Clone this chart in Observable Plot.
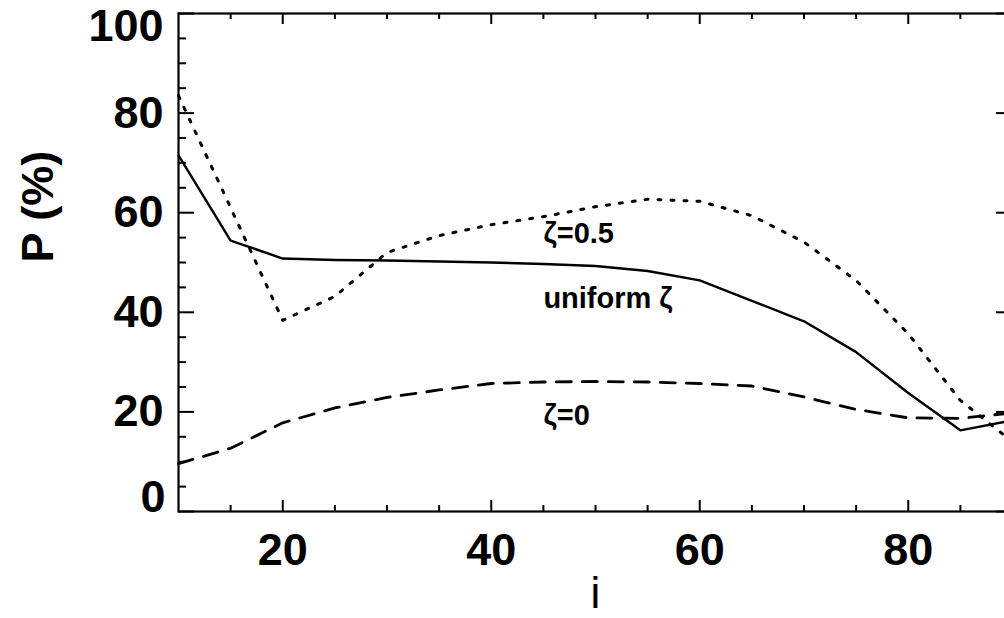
<!DOCTYPE html>
<html>
<head>
<meta charset="utf-8">
<script src="https://cdn.jsdelivr.net/npm/d3@7"></script>
<script src="https://cdn.jsdelivr.net/npm/@observablehq/plot@0.6"></script>
<style>
  html, body { margin: 0; padding: 0; background: #fff; overflow: hidden; }
</style>
</head>
<body>
<div id="chart"></div>
<script>
// ---- data ----
const iValues = [10, 15, 20, 25, 30, 35, 40, 45, 50, 55, 60, 65, 70, 75, 80, 85, 90];
const pUniform = [71.5, 54.4, 50.8, 50.5, 50.4, 50.2, 50.0, 49.7, 49.3, 48.3, 46.4, 42.3, 38.2, 32.0, 23.8, 16.3, 18.3];
const pZeta05  = [83.5, 61.0, 38.4, 43.2, 52.0, 55.4, 57.6, 59.2, 61.2, 62.7, 62.3, 59.4, 54.1, 46.4, 35.7, 22.3, 14.0];
const pZeta0   = [9.6, 12.7, 17.8, 20.8, 22.9, 24.4, 25.7, 26.0, 26.1, 26.0, 25.7, 25.2, 23.0, 20.5, 18.8, 18.7, 19.8];

const xMajor = [20, 40, 60, 80];
const xMinor = [15, 25, 30, 35, 45, 50, 55, 65, 70, 75, 85];
const yMajor = [0, 20, 40, 60, 80, 100];
const yMinor = [5, 10, 15, 25, 30, 35, 45, 50, 55, 65, 70, 75, 85, 90, 95];

const xTickLabels = ["20", "40", "60", "80"];
const yInnerTicks = [20, 40, 60, 80];
const yInnerLabels = ["20", "40", "60", "80"];
const yBottomTick = [0], yBottomLabel = ["0"];
const yTopTick = [100], yTopLabel = ["100"];

const noteText = ["ζ=0.5", "uniform ζ", "ζ=0"];
const noteX = [45, 45, 45];
const noteY = [55.7, 42.8, 19.3];

const xTitle = "i";
const yTitle = "P (%)";

// ---- build tables ----
const series = (vals) => iValues.map((i, k) => ({i, P: vals[k]}));
const uniformRows = series(pUniform);
const zeta05Rows = series(pZeta05);
const zeta0Rows = series(pZeta0);
const notes = noteText.map((t, k) => ({t, x: noteX[k], y: noteY[k]}));

const W = 1004, H = 618;
const mL = 178, mR = -8, mT = 13, mB = 107;
const plotW = W - mL - mR, plotH = H - mT - mB;
const font = "'Liberation Sans', Arial, Helvetica, sans-serif";
const majX = 11, minX = 6, majY = 16, minY = 8;

const chart = Plot.plot({
  width: W,
  height: H,
  marginLeft: mL,
  marginRight: mR,
  marginTop: mT,
  marginBottom: mB,
  x: {domain: [10, 90], axis: null},
  y: {domain: [0, 100], axis: null},
  style: {fontFamily: font, background: "#fff", color: "#000", overflow: "visible"},
  marks: [
    // ticks on all four sides (inward)
    Plot.tickX(xMajor, {x: d => d, insetTop: plotH - majX, stroke: "#000", strokeWidth: 2}),
    Plot.tickX(xMinor, {x: d => d, insetTop: plotH - minX, stroke: "#000", strokeWidth: 2}),
    Plot.tickX(xMajor, {x: d => d, insetBottom: plotH - majX, stroke: "#000", strokeWidth: 2}),
    Plot.tickX(xMinor, {x: d => d, insetBottom: plotH - minX, stroke: "#000", strokeWidth: 2}),
    Plot.tickY(yMajor, {y: d => d, insetRight: plotW - majY, stroke: "#000", strokeWidth: 2}),
    Plot.tickY(yMinor, {y: d => d, insetRight: plotW - minY, stroke: "#000", strokeWidth: 2}),
    Plot.tickY(yMajor, {y: d => d, insetLeft: plotW - majY, stroke: "#000", strokeWidth: 2}),
    Plot.tickY(yMinor, {y: d => d, insetLeft: plotW - minY, stroke: "#000", strokeWidth: 2}),
    Plot.frame({stroke: "#000", strokeWidth: 2.2}),

    // curves
    Plot.line(uniformRows, {x: "i", y: "P", stroke: "#000", strokeWidth: 2.4}),
    Plot.line(zeta05Rows, {x: "i", y: "P", stroke: "#000", strokeWidth: 3, strokeDasharray: "3,10"}),
    Plot.line(zeta0Rows, {x: "i", y: "P", stroke: "#000", strokeWidth: 2.8, strokeDasharray: "15,11"}),

    // curve annotations
    Plot.text(notes, {x: "x", y: "y", text: "t", textAnchor: "start", lineAnchor: "middle",
      fontSize: 29, fontWeight: "bold", fill: "#000"}),

    // tick labels
    Plot.text(xMajor, {x: d => d, text: (d, k) => xTickLabels[k], frameAnchor: "bottom", dy: 39,
      lineAnchor: "middle", fontSize: 45, fontWeight: "bold", fill: "#000"}),
    Plot.text(yInnerTicks, {y: d => d, text: (d, k) => yInnerLabels[k], frameAnchor: "left", dx: -15,
      textAnchor: "end", lineAnchor: "middle", fontSize: 45, fontWeight: "bold", fill: "#000"}),
    Plot.text(yBottomTick, {y: d => d, text: (d, k) => yBottomLabel[k], frameAnchor: "left", dx: -13, dy: -14,
      textAnchor: "end", lineAnchor: "middle", fontSize: 45, fontWeight: "bold", fill: "#000"}),
    Plot.text(yTopTick, {y: d => d, text: (d, k) => yTopLabel[k], frameAnchor: "left", dx: -15, dy: 13,
      textAnchor: "end", lineAnchor: "middle", fontSize: 45, fontWeight: "bold", fill: "#000"}),

    // axis titles
    Plot.text([xTitle], {text: d => d, frameAnchor: "bottom", dy: 82, lineAnchor: "middle",
      fontSize: 44, fill: "#000"}),
    Plot.text([yTitle], {text: d => d, frameAnchor: "left", dx: -140, rotate: -90, lineAnchor: "middle",
      fontSize: 45, fontWeight: "bold", fill: "#000"})
  ]
});

document.getElementById("chart").appendChild(chart);
</script>
</body>
</html>
